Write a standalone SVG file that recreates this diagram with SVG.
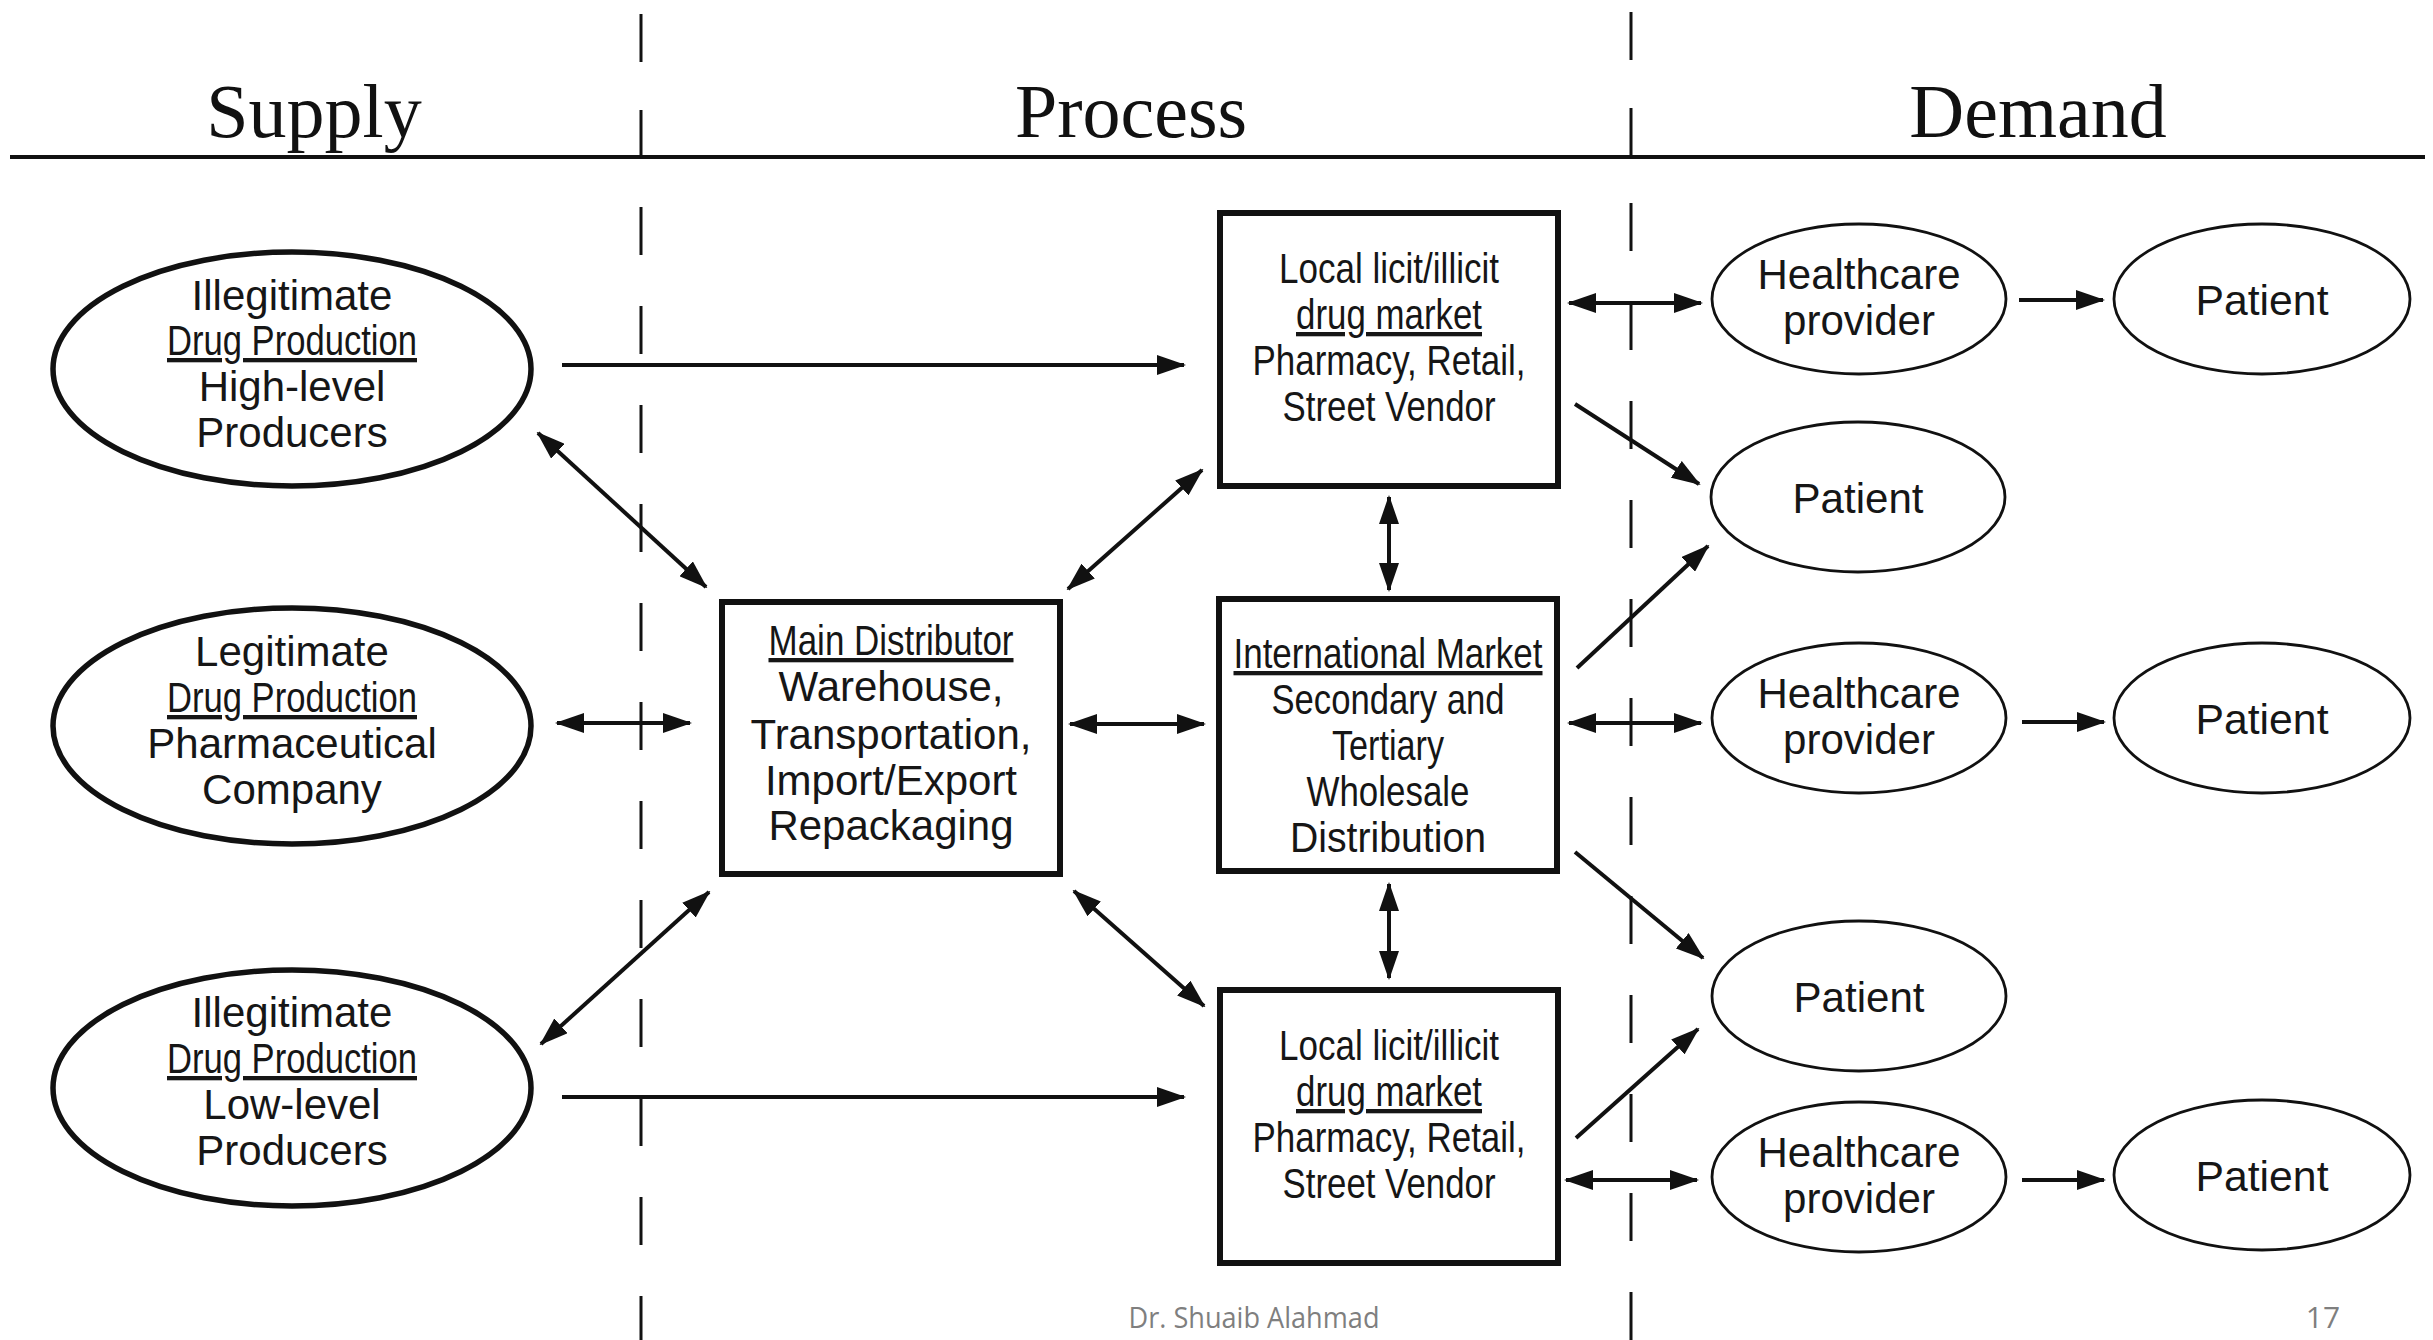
<svg xmlns="http://www.w3.org/2000/svg" width="2433" height="1340" viewBox="0 0 2433 1340">
<style>
.h{font-family:"Liberation Serif","Times New Roman",serif;font-size:76px;fill:#111;text-anchor:middle}
.t{font-family:"Liberation Sans",Arial,sans-serif;font-size:42px;fill:#161616;text-anchor:middle}
.c{font-family:"Liberation Sans",Arial,sans-serif;font-size:43px;fill:#161616;text-anchor:middle}
.u{text-decoration:underline}
.ell{fill:#fff;stroke:#111;stroke-width:5.5}
.ell2{fill:#fff;stroke:#111;stroke-width:2.8}
.box{fill:#fff;stroke:#111;stroke-width:6}
.ln{stroke:#111;stroke-width:4;fill:none}
.dash{stroke:#111;stroke-width:3;fill:none}
.foot{font-family:"Open Sans","Noto Sans",sans-serif;font-size:30px;fill:#7f7f7f;text-anchor:middle}
</style>
<defs>
<marker id="ah" viewBox="0 0 29 20" refX="27" refY="10" markerWidth="29" markerHeight="20" markerUnits="userSpaceOnUse" orient="auto-start-reverse">
<path d="M0,0 L29,10 L0,20 z" fill="#111"/>
</marker>
</defs>
<rect width="2433" height="1340" fill="#fff"/>

<g id="frame">
<line x1="10" y1="157" x2="2425" y2="157" stroke="#111" stroke-width="4"/>
<line class="dash" x1="641" y1="14" x2="641" y2="62"/>
<line class="dash" x1="641" y1="110" x2="641" y2="157"/>
<line class="dash" x1="641" y1="207" x2="641" y2="1340" stroke-dasharray="48 51"/>
<line class="dash" x1="1631" y1="12" x2="1631" y2="60"/>
<line class="dash" x1="1631" y1="108" x2="1631" y2="157"/>
<line class="dash" x1="1631" y1="203" x2="1631" y2="1340" stroke-dasharray="48 51"/>
<text class="h" x="314" y="137">Supply</text>
<text class="h" x="1131" y="137">Process</text>
<text class="h" x="2038" y="137">Demand</text>
</g>

<g id="connectors">
<line class="ln" x1="562" y1="365" x2="1184" y2="365" marker-end="url(#ah)"/>
<line class="ln" x1="538" y1="433" x2="706" y2="587" marker-start="url(#ah)" marker-end="url(#ah)"/>
<line class="ln" x1="557" y1="723" x2="690" y2="723" marker-start="url(#ah)" marker-end="url(#ah)"/>
<line class="ln" x1="541" y1="1044" x2="709" y2="892" marker-start="url(#ah)" marker-end="url(#ah)"/>
<line class="ln" x1="562" y1="1097" x2="1184" y2="1097" marker-end="url(#ah)"/>
<line class="ln" x1="1068" y1="589" x2="1202" y2="470" marker-start="url(#ah)" marker-end="url(#ah)"/>
<line class="ln" x1="1070" y1="724" x2="1204" y2="724" marker-start="url(#ah)" marker-end="url(#ah)"/>
<line class="ln" x1="1074" y1="891" x2="1204" y2="1006" marker-start="url(#ah)" marker-end="url(#ah)"/>
<line class="ln" x1="1389" y1="497" x2="1389" y2="590" marker-start="url(#ah)" marker-end="url(#ah)"/>
<line class="ln" x1="1389" y1="884" x2="1389" y2="978" marker-start="url(#ah)" marker-end="url(#ah)"/>
<line class="ln" x1="1569" y1="303" x2="1701" y2="303" marker-start="url(#ah)" marker-end="url(#ah)"/>
<line class="ln" x1="1575" y1="404" x2="1699" y2="484" marker-end="url(#ah)"/>
<line class="ln" x1="1577" y1="668" x2="1708" y2="546" marker-end="url(#ah)"/>
<line class="ln" x1="1569" y1="723" x2="1701" y2="723" marker-start="url(#ah)" marker-end="url(#ah)"/>
<line class="ln" x1="1575" y1="852" x2="1703" y2="958" marker-end="url(#ah)"/>
<line class="ln" x1="1576" y1="1138" x2="1698" y2="1029" marker-end="url(#ah)"/>
<line class="ln" x1="1566" y1="1180" x2="1697" y2="1180" marker-start="url(#ah)" marker-end="url(#ah)"/>
<line class="ln" x1="2019" y1="300" x2="2103" y2="300" marker-end="url(#ah)"/>
<line class="ln" x1="2022" y1="722" x2="2104" y2="722" marker-end="url(#ah)"/>
<line class="ln" x1="2022" y1="1180" x2="2104" y2="1180" marker-end="url(#ah)"/>
</g>

<g id="supply-high">
<ellipse class="ell" cx="292" cy="369" rx="239" ry="117"/>
<text class="t" x="292" y="310">Illegitimate</text>
<text class="c u" x="292" y="355" textLength="250" lengthAdjust="spacingAndGlyphs">Drug Production</text>
<text class="t" x="292" y="401">High-level</text>
<text class="t" x="292" y="447">Producers</text>
</g>

<g id="supply-legit">
<ellipse class="ell" cx="292" cy="726" rx="239" ry="118"/>
<text class="t" x="292" y="666">Legitimate</text>
<text class="c u" x="292" y="712" textLength="250" lengthAdjust="spacingAndGlyphs">Drug Production</text>
<text class="t" x="292" y="758">Pharmaceutical</text>
<text class="t" x="292" y="804">Company</text>
</g>

<g id="supply-low">
<ellipse class="ell" cx="292" cy="1088" rx="239" ry="118"/>
<text class="t" x="292" y="1027">Illegitimate</text>
<text class="c u" x="292" y="1073" textLength="250" lengthAdjust="spacingAndGlyphs">Drug Production</text>
<text class="t" x="292" y="1119">Low-level</text>
<text class="t" x="292" y="1165">Producers</text>
</g>

<g id="main-distributor">
<rect class="box" x="722" y="602" width="338" height="272"/>
<text class="c u" x="891" y="655" textLength="245" lengthAdjust="spacingAndGlyphs">Main Distributor</text>
<text class="t" x="891" y="701">Warehouse,</text>
<text class="t" x="891" y="749">Transportation,</text>
<text class="t" x="891" y="795">Import/Export</text>
<text class="t" x="891" y="840">Repackaging</text>
</g>

<g id="local-top">
<rect class="box" x="1220" y="213" width="338" height="273"/>
<text class="c" x="1389" y="283" textLength="220" lengthAdjust="spacingAndGlyphs">Local licit/illicit</text>
<text class="c u" x="1389" y="329" textLength="186" lengthAdjust="spacingAndGlyphs">drug market</text>
<text class="c" x="1389" y="375" textLength="273" lengthAdjust="spacingAndGlyphs">Pharmacy, Retail,</text>
<text class="c" x="1389" y="421" textLength="213" lengthAdjust="spacingAndGlyphs">Street Vendor</text>
</g>

<g id="international">
<rect class="box" x="1219" y="599" width="338" height="272"/>
<text class="c u" x="1388" y="668" textLength="309" lengthAdjust="spacingAndGlyphs">International Market</text>
<text class="c" x="1388" y="714" textLength="233" lengthAdjust="spacingAndGlyphs">Secondary and</text>
<text class="c" x="1388" y="760" textLength="112" lengthAdjust="spacingAndGlyphs">Tertiary</text>
<text class="c" x="1388" y="806" textLength="163" lengthAdjust="spacingAndGlyphs">Wholesale</text>
<text class="c" x="1388" y="852" textLength="196" lengthAdjust="spacingAndGlyphs">Distribution</text>
</g>

<g id="local-bottom">
<rect class="box" x="1220" y="990" width="338" height="273"/>
<text class="c" x="1389" y="1060" textLength="220" lengthAdjust="spacingAndGlyphs">Local licit/illicit</text>
<text class="c u" x="1389" y="1106" textLength="186" lengthAdjust="spacingAndGlyphs">drug market</text>
<text class="c" x="1389" y="1152" textLength="273" lengthAdjust="spacingAndGlyphs">Pharmacy, Retail,</text>
<text class="c" x="1389" y="1198" textLength="213" lengthAdjust="spacingAndGlyphs">Street Vendor</text>
</g>

<g id="hp1">
<ellipse class="ell2" cx="1859" cy="299" rx="147" ry="75"/>
<text class="c" x="1859" y="289" textLength="203" lengthAdjust="spacingAndGlyphs">Healthcare</text>
<text class="c" x="1859" y="335" textLength="152" lengthAdjust="spacingAndGlyphs">provider</text>
</g>
<g id="patient-r1">
<ellipse class="ell2" cx="2262" cy="299" rx="148" ry="75"/>
<text class="c" x="2262" y="315" textLength="133" lengthAdjust="spacingAndGlyphs">Patient</text>
</g>
<g id="patient-2">
<ellipse class="ell2" cx="1858" cy="497" rx="147" ry="75"/>
<text class="c" x="1858" y="513" textLength="131" lengthAdjust="spacingAndGlyphs">Patient</text>
</g>
<g id="hp2">
<ellipse class="ell2" cx="1859" cy="718" rx="147" ry="75"/>
<text class="c" x="1859" y="708" textLength="203" lengthAdjust="spacingAndGlyphs">Healthcare</text>
<text class="c" x="1859" y="754" textLength="152" lengthAdjust="spacingAndGlyphs">provider</text>
</g>
<g id="patient-r2">
<ellipse class="ell2" cx="2262" cy="718" rx="148" ry="75"/>
<text class="c" x="2262" y="734" textLength="133" lengthAdjust="spacingAndGlyphs">Patient</text>
</g>
<g id="patient-3">
<ellipse class="ell2" cx="1859" cy="996" rx="147" ry="75"/>
<text class="c" x="1859" y="1012" textLength="131" lengthAdjust="spacingAndGlyphs">Patient</text>
</g>
<g id="hp3">
<ellipse class="ell2" cx="1859" cy="1177" rx="147" ry="75"/>
<text class="c" x="1859" y="1167" textLength="203" lengthAdjust="spacingAndGlyphs">Healthcare</text>
<text class="c" x="1859" y="1213" textLength="152" lengthAdjust="spacingAndGlyphs">provider</text>
</g>
<g id="patient-r3">
<ellipse class="ell2" cx="2262" cy="1175" rx="148" ry="75"/>
<text class="c" x="2262" y="1191" textLength="133" lengthAdjust="spacingAndGlyphs">Patient</text>
</g>

<g id="footer">
<text class="foot" x="1254" y="1328" textLength="251" lengthAdjust="spacingAndGlyphs">Dr. Shuaib Alahmad</text>
<text class="foot" x="2323" y="1328">17</text>
</g>
</svg>
